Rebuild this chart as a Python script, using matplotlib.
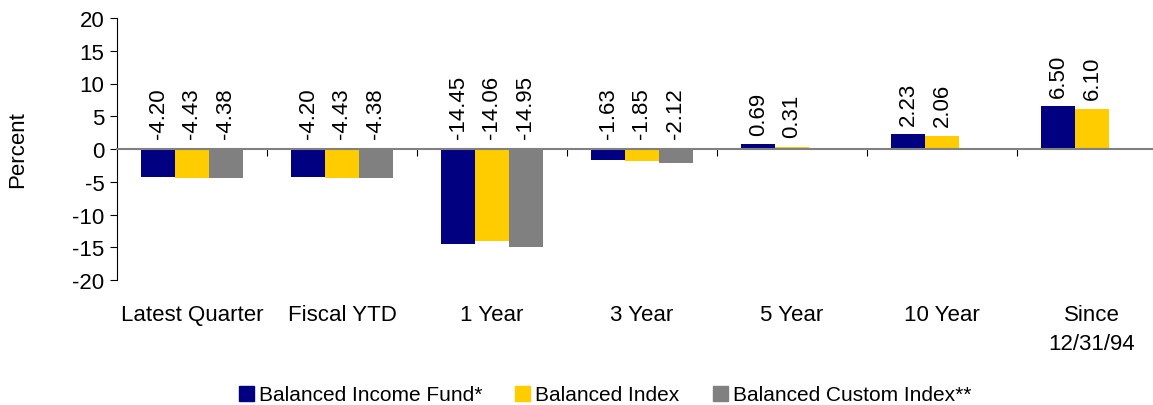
import matplotlib.pyplot as plt
import numpy as np
from matplotlib.patches import Patch

periods = ["Latest Quarter", "Fiscal YTD", "1 Year", "3 Year", "5 Year", "10 Year", "Since\n12/31/94"]
fund = [-4.20, -4.20, -14.45, -1.63, 0.69, 2.23, 6.50]
index = [-4.43, -4.43, -14.06, -1.85, 0.31, 2.06, 6.10]
custom = [-4.38, -4.38, -14.95, -2.12, None, None, None]
series_names = ["Balanced Income Fund*", "Balanced Index", "Balanced Custom Index**"]
colors = ["#000080", "#FFCC00", "#808080"]

plt.rcParams['font.family'] = ['Liberation Sans', 'DejaVu Sans']
plt.rcParams['font.size'] = 16
plt.rcParams['axes.unicode_minus'] = False

fig = plt.figure(figsize=(11.53, 4.06), dpi=100)
W, H = 1153, 406
ax = fig.add_axes([117 / W, 1 - 281 / H, 1050 / W, (281 - 19) / H])

x = np.arange(len(periods))
bw = 0.225
for i, (vals, col) in enumerate(zip([fund, index, custom], colors)):
    for xi, v in zip(x, vals):
        if v is None:
            continue
        pos = xi + (i - 1) * bw
        ax.bar(pos, v, width=bw, color=col, zorder=2)
        off = 7 if v >= 0 else 8
        ax.annotate(f"{v:.2f}", (pos, max(v, 0)), xytext=(0, off),
                    textcoords='offset points', rotation=90, ha='center',
                    va='bottom', fontsize=16)

ax.set_xlim(-0.5, len(periods) - 0.5)
ax.set_ylim(-20, 20)
ax.set_yticks(range(-20, 21, 5))
ax.set_ylabel("Percent", fontsize=16)
ax.yaxis.set_label_coords(-0.085, 0.5)

ax.spines['top'].set_visible(False)
ax.spines['right'].set_visible(False)
ax.spines['bottom'].set_position(('data', 0))
ax.spines['bottom'].set_color('#808080')
ax.spines['bottom'].set_linewidth(1.5)
ax.spines['bottom'].set_zorder(3)
ax.set_xticks(np.arange(0.5, len(periods) - 0.5, 1))
ax.set_xticklabels([])
ax.tick_params(axis='x', length=5, direction='out', color='black')
ax.tick_params(axis='y', length=5, direction='out', pad=4)

for xi, lab in zip(x, periods):
    ax.text(xi, -0.09, lab, transform=ax.get_xaxis_transform(), ha='center',
            va='top', fontsize=16, linespacing=1.5)

handles = [Patch(color=c, label=n) for c, n in zip(colors, series_names)]
fig.legend(handles=handles, loc='center', bbox_to_anchor=(605 / W, 1 - 396 / H),
           ncol=3, frameon=False, fontsize=15, handlelength=0.72, handleheight=0.72,
           handletextpad=0.24, columnspacing=1.6)

fig.savefig("out.png", dpi=100)
